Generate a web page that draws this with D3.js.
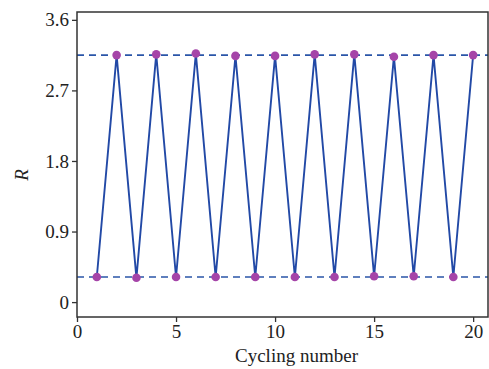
<!DOCTYPE html>
<html>
<head>
<meta charset="utf-8">
<script src="https://cdn.jsdelivr.net/npm/d3@7"></script>
<style>
  body { margin: 0; background: #fff; }
</style>
</head>
<body>
<svg id="chart" width="489" height="369" font-family="'Liberation Serif', 'Times New Roman', Times, serif"></svg>
<script>
// Data
const cycles = [1, 2, 3, 4, 5, 6, 7, 8, 9, 10, 11, 12, 13, 14, 15, 16, 17, 18, 19, 20];
const rValues = [0.32, 3.15, 0.31, 3.16, 0.32, 3.17, 0.32, 3.14, 0.32, 3.14,
                 0.32, 3.16, 0.32, 3.16, 0.33, 3.13, 0.33, 3.15, 0.32, 3.15];
const refLines = [3.15, 0.32];
const xTicks = [0, 5, 10, 15, 20];
const yTicks = [0, 0.9, 1.8, 2.7, 3.6];

const serif = "'Liberation Serif', 'Times New Roman', Times, serif";
const svg = d3.select('#chart');
const margin = { left: 77, top: 12, right: 1, bottom: 52 };
const width = 489 - margin.left - margin.right;
const height = 369 - margin.top - margin.bottom;

const x = d3.scaleLinear().domain([0, 20.75]).range([0, width]);
const y = d3.scaleLinear().domain([-0.19, 3.70]).range([height, 0]);

const g = svg.append('g').attr('transform', `translate(${margin.left},${margin.top})`);

// Dashed reference lines
g.selectAll('.ref')
    .data(refLines)
    .join('line')
    .attr('x1', 0).attr('x2', width)
    .attr('y1', d => y(d)).attr('y2', d => y(d))
    .attr('stroke', '#2a55a8')
    .attr('stroke-width', 1.7)
    .attr('stroke-dasharray', '7,5');

// Data line
const line = d3.line().x((d, i) => x(cycles[i])).y(d => y(d));
g.append('path')
    .datum(rValues)
    .attr('d', line)
    .attr('fill', 'none')
    .attr('stroke', '#2249a6')
    .attr('stroke-width', 1.9);

// Markers
g.selectAll('.pt')
    .data(rValues)
    .join('circle')
    .attr('cx', (d, i) => x(cycles[i]))
    .attr('cy', d => y(d))
    .attr('r', 4.3)
    .attr('fill', '#a544a8');

// Frame
g.append('rect')
    .attr('width', width).attr('height', height)
    .attr('fill', 'none')
    .attr('stroke', '#333')
    .attr('stroke-width', 1.5);

// Axes
const xAxis = g.append('g')
    .attr('transform', `translate(0,${height})`)
    .call(d3.axisBottom(x).tickValues(xTicks).tickSize(5).tickPadding(3).tickFormat(d3.format('d')));
const yAxis = g.append('g')
    .call(d3.axisLeft(y).tickValues(yTicks).tickSize(5).tickPadding(3).tickFormat(d => d === 0 ? '0' : d3.format('.1f')(d)));

[xAxis, yAxis].forEach(a => {
    a.attr('font-family', serif).attr('font-size', 19);
    a.select('.domain').remove();
    a.selectAll('line').attr('stroke', '#333').attr('stroke-width', 1.3);
    a.selectAll('text').attr('fill', '#222');
});

// Axis titles
svg.append('text')
    .attr('x', margin.left + width / 2 + 14)
    .attr('y', 362)
    .attr('text-anchor', 'middle')
    .attr('font-size', 19)
    .attr('fill', '#222')
    .text('Cycling number');

svg.append('text')
    .attr('transform', 'translate(28,175) rotate(-90)')
    .attr('text-anchor', 'middle')
    .attr('font-size', 19)
    .attr('font-style', 'italic')
    .attr('fill', '#222')
    .text('R');
</script>
</body>
</html>
